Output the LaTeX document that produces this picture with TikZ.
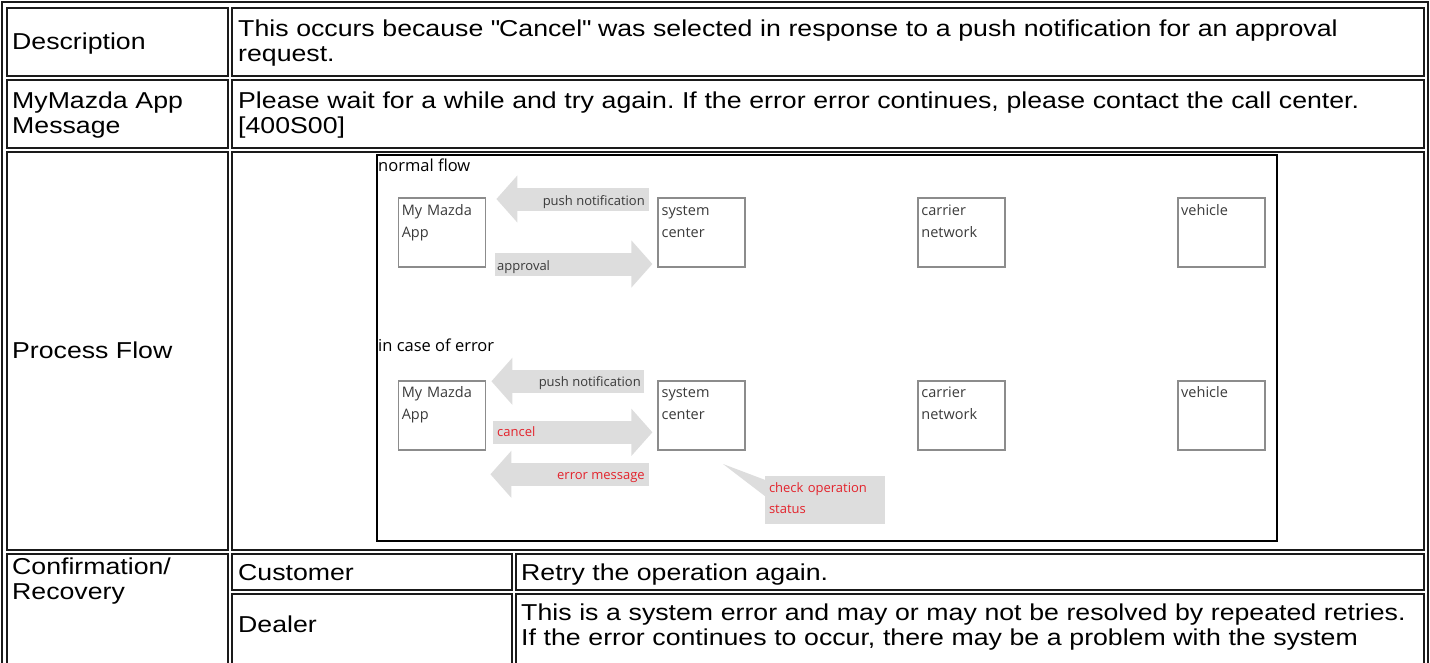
\documentclass[tikz,border=0pt]{standalone}
\usepackage{fontspec}
\setmainfont{Liberation Sans}[FakeStretch=1.16]
\newfontfamily\diagfont{Open Sans}
\usetikzlibrary{arrows.meta}
\usetikzlibrary{positioning}
\frenchspacing

\definecolor{cellline}{HTML}{1A1A1A}
\definecolor{boxgray}{HTML}{8C8C8C}
\definecolor{arrowgray}{HTML}{DDDDDD}
\definecolor{labelgray}{HTML}{3A3A3A}
\definecolor{errred}{HTML}{E3232C}

\tikzset{
  cellbox/.style={draw=cellline, line width=1.2pt},
  celltext/.style={anchor=base west, inner sep=0pt, align=left, font=\fontsize{23}{25}\selectfont},
  unit/.style={draw=boxgray, line width=1.8pt, minimum width=87pt, minimum height=69pt, inner sep=0pt},
  unittext/.style={anchor=base west, inner sep=0pt, align=left, text width=80pt, text=labelgray, font=\diagfont\fontsize{14.5}{22}\selectfont},
  flowtext/.style={anchor=base west, inner sep=0pt, font=\diagfont\fontsize{16.5}{20}\selectfont},
  msgtext/.style={inner sep=0pt, text=labelgray, font=\diagfont\fontsize{13}{21}\selectfont},
  blockarrow/.style={draw=arrowgray, line width=23pt, -{Triangle[length=21pt,width=46pt]}},
}

\begin{document}
\begin{tikzpicture}[x=1pt, y=-1pt]
  \useasboundingbox (0,0) rectangle (1430,662);
  \clip (0,0) rectangle (1430,662);

  % table
  \draw[cellline, line width=2pt] (2,2) rectangle (1428,720);
  \foreach \xa/\ya/\xb/\yb in {7/8/228/76, 232/8/1424/76, 7/80/228/148, 232/80/1424/148,
      7/152/228/550, 232/152/1424/550, 7/554/228/720, 232/554/512/590, 516/554/1424/590,
      232/594/512/720, 516/594/1424/720}
    \draw[cellbox] (\xa,\ya) rectangle (\xb,\yb);

  \node[celltext] (desc) at (12,49) {Description};
  \node[celltext, text width=1180pt] (desctext) at (238,36)
    {This occurs because \textquotedbl Cancel\textquotedbl\ was selected in response to a push notification for an approval\\request.};
  \node[celltext, text width=210pt] (msg) at (12,108) {MyMazda App\\Message};
  \node[celltext, text width=1180pt] (msgtext) at (238,108)
    {Please wait for a while and try again. If the error error continues, please contact the call center.\\{[400S00]}};
  \node[celltext] (flow) at (12,358) {Process Flow};
  \node[celltext, text width=210pt] (recov) at (12,574) {Confirmation/\\Recovery};
  \node[celltext] (cust) at (238,580) {Customer};
  \node[celltext] (custtext) at (521,580) {Retry the operation again.};
  \node[celltext] (dealer) at (238,632) {Dealer};
  \node[celltext, text width=900pt] (dealertext) at (521,620)
    {This is a system error and may or may not be resolved by repeated retries.\\If the error continues to occur, there may be a problem with the system};

  % process flow picture
  \draw[black, line width=1.5pt] (377,155) rectangle (1277,541);
  \node[flowtext] (normal) at (378,171) {normal flow};
  \node[flowtext] (error) at (378,351) {in case of error};

  \node[unit] (app1) at (442,232.5) {};
  \node[unit, right=171pt of app1] (sc1) {};
  \node[unit, right=171pt of sc1] (cn1) {};
  \node[unit, right=171pt of cn1] (veh1) {};
  \node[unit, below=112pt of app1] (app2) {};
  \node[unit, right=171pt of app2] (sc2) {};
  \node[unit, right=171pt of sc2] (cn2) {};
  \node[unit, right=171pt of cn2] (veh2) {};

  \node[unittext] (app1t) at ([shift={(4pt,-18pt)}]app1.north west) {My Mazda\\App};
  \node[unittext] (sc1t) at ([shift={(4pt,-18pt)}]sc1.north west) {system\\center};
  \node[unittext] (cn1t) at ([shift={(4pt,-18pt)}]cn1.north west) {carrier\\network};
  \node[unittext] (veh1t) at ([shift={(4pt,-18pt)}]veh1.north west) {vehicle};
  \node[unittext] (app2t) at ([shift={(4pt,-18pt)}]app2.north west) {My Mazda\\App};
  \node[unittext] (sc2t) at ([shift={(4pt,-18pt)}]sc2.north west) {system\\center};
  \node[unittext] (cn2t) at ([shift={(4pt,-18pt)}]cn2.north west) {carrier\\network};
  \node[unittext] (veh2t) at ([shift={(4pt,-18pt)}]veh2.north west) {vehicle};

  \draw[blockarrow, shorten <=8pt, shorten >=10pt] ([yshift=33.5pt]sc1.west) -- ([yshift=33.5pt]app1.east);
  \draw[blockarrow, shorten <=9pt, shorten >=5pt] ([yshift=-31.5pt]app1.east) -- ([yshift=-31.5pt]sc1.west);
  \draw[blockarrow, shorten <=13pt, shorten >=5pt] ([yshift=34pt]sc2.west) -- ([yshift=34pt]app2.east);
  \draw[blockarrow, shorten <=7pt, shorten >=5pt] ([yshift=-17pt]app2.east) -- ([yshift=-17pt]sc2.west);
  \draw[blockarrow, shorten <=8pt, shorten >=4pt] ([yshift=-59pt]sc2.west) -- ([yshift=-59pt]app2.east);

  \node[msgtext, anchor=base east] (push1) at (645,205) {push notification};
  \node[msgtext, anchor=base west] (appr1) at (497,270) {approval};
  \node[msgtext, anchor=base east] (push2) at (641,386) {push notification};
  \node[msgtext, anchor=base west, text=errred] (cancel2) at (497,436) {cancel};
  \node[msgtext, anchor=base east, text=errred] (errmsg2) at (645,479) {error message};

  % callout
  \node[fill=arrowgray, minimum width=120pt, minimum height=48pt, inner sep=0pt] (chk) at (825,500) {};
  \coordinate (chktip) at (723,464);
  \fill[arrowgray] ([yshift=-4pt]chk.north west) -- (chktip) -- ([yshift=4pt]chk.west) -- cycle;
  \node[msgtext, anchor=base west, align=left, text width=115pt, text=errred] (chkt)
    at ([shift={(4pt,-17pt)}]chk.north west) {check operation\\status};
\end{tikzpicture}
\end{document}
